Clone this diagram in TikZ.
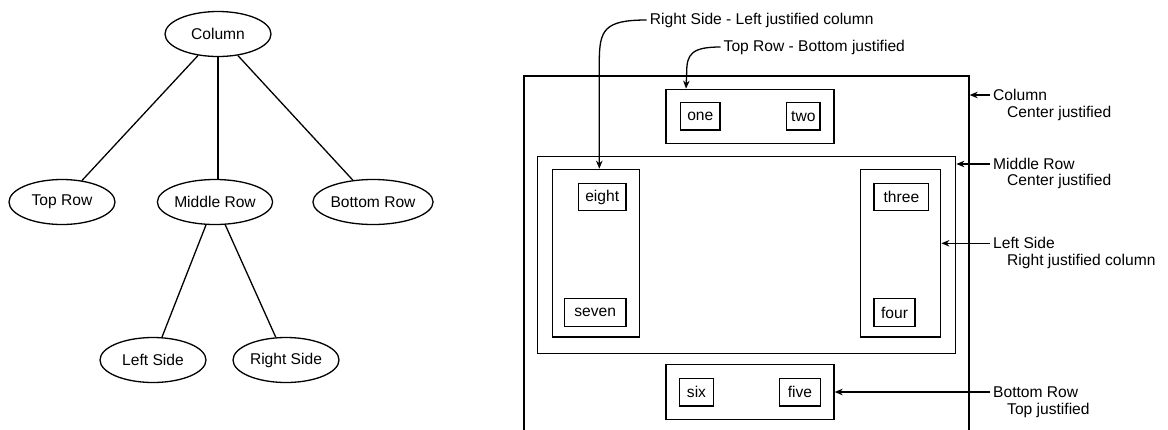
\documentclass[tikz,border=0pt]{standalone}
\usepackage{fontspec}
\setmainfont{Liberation Sans}
\usetikzlibrary{shapes.geometric,arrows.meta}
\begin{document}
\begin{tikzpicture}[x=1pt,y=-1pt,
  every node/.style={font=\fontsize{15.6}{18}\selectfont},
  ln/.style={line width=1.3pt},
  ell/.style={ellipse,draw,line width=1.3pt,minimum width=106pt,minimum height=45pt,inner sep=0pt},
  cont/.style={draw,line width=1.3pt,inner sep=0pt},
  lbl/.style={draw,line width=1.3pt,inner sep=0pt,minimum height=27.4pt},
  txt/.style={inner sep=3pt,anchor=west},
  arr/.style={line width=1.3pt,-{Stealth[length=8pt,width=6.5pt,inset=2.5pt]}}]
\useasboundingbox (0,0) rectangle (1168,429);
% tree
\node[ell] (tcol) at (218,34) {Column};
\node[ell] (ttop) at (62,202) {Top Row};
\node[ell] (tmid) at (215,202) {Middle Row};
\node[ell] (tbot) at (373,202) {Bottom Row};
\node[ell] (tleft) at (153,360) {Left Side};
\node[ell] (tright) at (286,360) {Right Side};
\draw[ln] (tcol) -- (ttop);
\draw[ln] (tcol.south) -- (tcol.south |- tmid.north);
\draw[ln] (tcol) -- (tbot);
\draw[ln] (tmid) -- (tleft);
\draw[ln] (tmid) -- (tright);
% layout
\begin{scope}
\clip (0,0) rectangle (1168,429);
\node[cont,minimum width=445pt,minimum height=400pt] (colbox) at (746.5,276) {};
\end{scope}
\node[cont,minimum width=168pt,minimum height=54.4pt] (toprow) at (750,116.5) {};
\node[lbl,minimum width=39.3pt] (one) at (700.3,116.3) {one};
\node[lbl,minimum width=33.3pt] (two) at (803.3,116.3) {two};
\node[cont,minimum width=418.4pt,minimum height=196.6pt] (midrow) at (746.5,255) {};
\node[cont,minimum width=87pt,minimum height=167.7pt] (lcol) at (595.8,253.2) {};
\node[lbl,minimum width=47.7pt] (eight) at (602.2,197) {eight};
\node[lbl,minimum width=61.7pt] (seven) at (595.2,312.5) {seven};
\node[cont,minimum width=80pt,minimum height=167.7pt] (rcol) at (900.7,253.2) {};
\node[lbl,minimum width=54.7pt] (three) at (901.4,197) {three};
\node[lbl,minimum width=41pt] (four) at (894.5,312.5) {four};
\node[cont,minimum width=168pt,minimum height=54.6pt] (botrow) at (750,392) {};
\node[lbl,minimum width=34.4pt] (six) at (696.5,392.3) {six};
\node[lbl,minimum width=41.4pt] (five) at (800,392.3) {five};
% annotations
\node[txt] (rslab) at (646.7,20) {Right Side - Left justified column};
\node[txt] (trlab) at (720.5,47) {Top Row - Bottom justified};
\draw[arr] (rslab.west) .. controls (604,20) and (599.3,30) .. (599.3,62) -- ([xshift=3.5pt]lcol.north);
\draw[arr] (trlab.west) .. controls (692,47) and (686.7,54) .. (686.7,72) -- ([xshift=20.7pt]toprow.north west);
\node[txt] (collab) at (990,95) {Column};
\node[txt] (collab2) at (1004,113.3) {Center justified};
\node[txt] (midlab) at (990,164) {Middle Row};
\node[txt] (midlab2) at (1004,181.7) {Center justified};
\node[txt] (lslab) at (990,243.3) {Left Side};
\node[txt] (lslab2) at (1004,261) {Right justified column};
\node[txt] (brlab) at (990,392) {Bottom Row};
\node[txt] (brlab2) at (1004,410.7) {Top justified};
\draw[arr] (collab.west) -- (collab.west -| colbox.east);
\draw[arr] (midlab.west) -- (midlab.west -| midrow.east);
\draw[arr] (lslab.west) -- (lslab.west -| rcol.east);
\draw[arr] (brlab.west) -- (brlab.west -| botrow.east);
\end{tikzpicture}
\end{document}
